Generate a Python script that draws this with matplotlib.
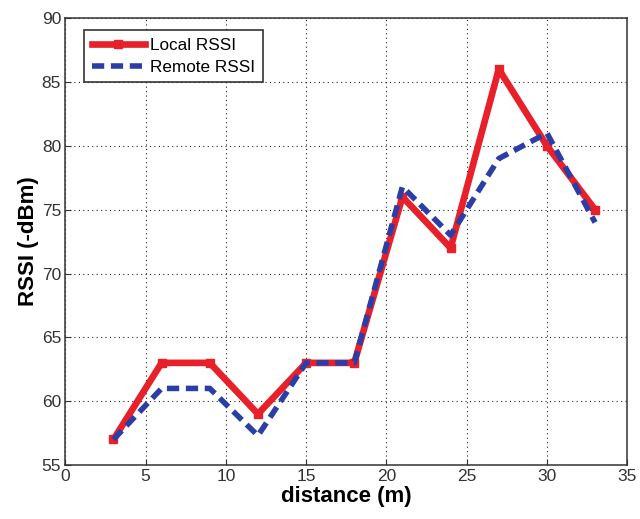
import numpy as np
import matplotlib
matplotlib.use('Agg')
import matplotlib.pyplot as plt

plt.rcParams['font.family'] = ['Liberation Sans', 'DejaVu Sans']

# distance (m) and RSSI values
distance = [3, 6, 9, 12, 15, 18, 21, 24, 27, 30, 33]
local_rssi = [57, 63, 63, 59, 63, 63, 76, 72, 86, 80, 75]
remote_rssi = [57, 61, 61, 57.3, 63, 63, 76.8, 73, 79, 81, 74]

fig = plt.figure(figsize=(6.4, 5.19), dpi=100)
ax = fig.add_axes([0.102, 0.104, 0.878, 0.861])

ax.plot(distance, local_rssi, color='#e8202a', lw=4.8, marker='s', ms=6,
        label='Local RSSI', zorder=3)
ax.plot(distance, remote_rssi, color='#2b3ea8', lw=4, ls=(0, (2.2, 1.2)),
        label='Remote RSSI', zorder=4)

ax.set_xlim(0, 35)
ax.set_ylim(55, 90)
ax.set_xticks(np.arange(0, 36, 5))
ax.set_yticks(np.arange(55, 91, 5))
ax.grid(True, color='#222222', ls=(0, (1, 3)), lw=0.8)
ax.tick_params(labelsize=12.5, direction='in', length=4, colors='#333333', pad=3)
for s in ax.spines.values():
    s.set_color('#333333')
    s.set_linewidth(1.1)

ax.set_xlabel('distance (m)', fontsize=16, fontweight='bold', labelpad=1)
ax.set_ylabel('RSSI (-dBm)', fontsize=16, fontweight='bold', labelpad=2)

leg = ax.legend(loc='upper left', bbox_to_anchor=(0.0335, 0.973), borderaxespad=0,
                fontsize=12.3, handlelength=3.1, handletextpad=0.3, borderpad=0.45,
                labelspacing=0.4, fancybox=False, framealpha=1)
leg.get_frame().set_edgecolor('#333333')
leg.get_frame().set_linewidth(1.2)

fig.savefig('out.png', dpi=100)
